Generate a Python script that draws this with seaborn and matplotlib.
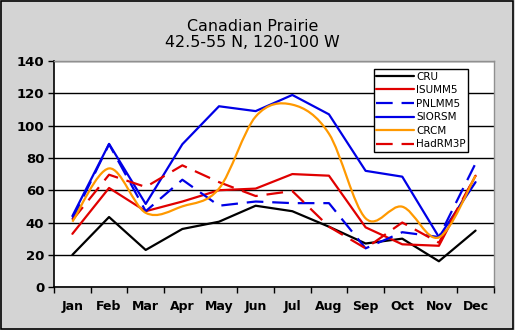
import numpy as np
import pandas as pd
import matplotlib
matplotlib.use("Agg")
import matplotlib.pyplot as plt
from matplotlib.path import Path
from matplotlib.patches import PathPatch, Rectangle
from matplotlib.lines import Line2D
import seaborn as sns

months = ["Jan", "Feb", "Mar", "Apr", "May", "Jun", "Jul", "Aug", "Sep", "Oct", "Nov", "Dec"]
cru     = [20, 43.4, 23, 36, 40.5, 50.4, 47, 37.4, 27, 30, 16, 35]
isumm5  = [33, 61.4, 47, 53, 60, 61, 70, 69, 37, 26.5, 25.6, 69]
pnlmm5  = [42, 88.5, 47, 66.5, 50.4, 53, 52, 52, 24, 34, 31, 76.6]
siorsm  = [44, 88.7, 51.5, 88.5, 112, 109, 119, 107, 72, 68.4, 31, 65]
crcm    = [40.5, 73.5, 46, 50, 61, 105.6, 113, 95, 42.6, 49.8, 30.8, 69]
hadrm3p = [41.5, 69.6, 62, 75.4, 65, 56.4, 59.5, 37.4, 24, 40, 27.5, 69]

series = {"CRU": cru, "ISUMM5": isumm5, "PNLMM5": pnlmm5,
          "SIORSM": siorsm, "CRCM": crcm, "HadRM3P": hadrm3p}
colors = {"CRU": "#000000", "ISUMM5": "#e00000", "PNLMM5": "#0000e6",
          "SIORSM": "#0000e6", "CRCM": "#ff9900", "HadRM3P": "#e00000"}
dashed = {"CRU": False, "ISUMM5": False, "PNLMM5": True,
          "SIORSM": False, "CRCM": False, "HadRM3P": True}
DASH = (7.5, 4)

rows = []
for name, vals in series.items():
    for i, v in enumerate(vals):
        rows.append({"series": name, "x": i, "value": v})
df = pd.DataFrame(rows)

sns.set_style("white")
plt.rcParams["font.family"] = ["DejaVu Sans"]
plt.rcParams["text.color"] = "black"
plt.rcParams["xtick.color"] = "black"
plt.rcParams["ytick.color"] = "black"

fig = plt.figure(figsize=(5.15, 3.30), dpi=100)
fig.patch.set_facecolor("#d4d4d4")
fig.patches.append(Rectangle((0.002, 0.003), 0.994, 0.994, transform=fig.transFigure,
                             fill=False, edgecolor="black", linewidth=1.2))
ax = fig.add_axes([0.105, 0.130, 0.854, 0.685])
ax.set_facecolor("white")

for name in series:
    sub = df[df["series"] == name]
    if name == "CRCM":
        continue
    sns.lineplot(data=sub, x="x", y="value", ax=ax, color=colors[name],
                 linewidth=1.6, legend=False, zorder=3)
    if dashed[name]:
        ax.lines[-1].set_dashes(DASH)

# smoothed CRCM line (Bezier through the data points, like Excel smoothing)
sub = df[df["series"] == "CRCM"]
px = sub["x"].to_numpy(float)
py = sub["value"].to_numpy(float)
pts = np.column_stack([px, py])
ext = np.vstack([pts[0], pts, pts[-1]])
verts = [tuple(pts[0])]
codes = [Path.MOVETO]
for i in range(len(pts) - 1):
    p0, p1, p2, p3 = ext[i], ext[i + 1], ext[i + 2], ext[i + 3]
    c1 = p1 + (p2 - p0) / 6.0
    c2 = p2 - (p3 - p1) / 6.0
    verts += [tuple(c1), tuple(c2), tuple(p2)]
    codes += [Path.CURVE4] * 3
ax.add_patch(PathPatch(Path(verts, codes), fill=False, edgecolor=colors["CRCM"],
                       linewidth=1.6, zorder=3))

ax.set_xlim(-0.5, 11.5)
ax.set_ylim(0, 140)
ax.set_yticks(range(0, 141, 20))
ax.yaxis.grid(True, color="black", linewidth=1.0)
ax.set_axisbelow(True)
ax.set_xticks(np.arange(-0.5, 12, 1))
ax.set_xticklabels([])
ax.set_xticks(range(12), minor=True)
ax.set_xticklabels(months, minor=True)
ax.tick_params(axis="x", which="major", length=4, width=1, direction="out", bottom=True, color="black")
ax.tick_params(axis="x", which="minor", length=0, pad=9, labelsize=9, labelcolor="black")
ax.tick_params(axis="y", length=4, width=1, direction="out", left=True, labelsize=9.5, pad=3,
               color="black", labelcolor="black")
for lab in ax.get_xticklabels(minor=True) + ax.get_yticklabels():
    lab.set_fontweight("bold")
ax.set_xlabel("")
ax.set_ylabel("")
for s in ["left", "bottom"]:
    ax.spines[s].set_color("black")
    ax.spines[s].set_linewidth(1.2)
for s in ["top", "right"]:
    ax.spines[s].set_color("#909090")
    ax.spines[s].set_linewidth(1.0)

fig.text(0.49, 0.895, "Canadian Prairie\n42.5-55 N, 120-100 W", ha="center", va="center",
         fontsize=11.4, linespacing=1.05, color="black")

handles = []
for name in series:
    h = Line2D([0], [0], color=colors[name], linewidth=1.6)
    if dashed[name]:
        h.set_dashes(DASH)
    handles.append(h)
leg = ax.legend(handles, list(series.keys()), loc="upper left",
                bbox_to_anchor=(0.727, 0.965), borderaxespad=0, fontsize=7.5,
                frameon=True, fancybox=False, handlelength=3.6, handletextpad=0.2,
                labelspacing=0.34, borderpad=0.25)
leg.get_frame().set_edgecolor("black")
leg.get_frame().set_linewidth(1.0)
leg.get_frame().set_alpha(1)
leg.set_zorder(5)
for t in leg.get_texts():
    t.set_color("black")

fig.savefig("out.png", dpi=100, facecolor=fig.get_facecolor())
